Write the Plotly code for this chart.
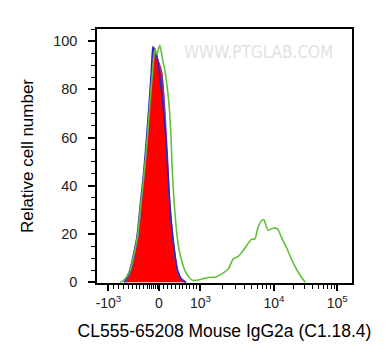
import math
import plotly.graph_objects as go

# Display channel (0-1023 biexponential display scale) and relative cell number (%)
red_x = [117, 139, 166, 179, 192, 203, 212, 223, 232, 242, 259, 270, 276, 283, 290, 302, 319, 334, 350]
red_y = [0, 4.8, 18.6, 32.4, 46.2, 59.9, 73.7, 87.5, 97.0, 93.0, 87.5, 73.7, 59.9, 46.2, 32.4, 18.6, 4.8, 1.5, 0]

purple_x = [114, 136, 163, 177, 190, 201, 211, 221, 229, 236, 243, 260, 271, 278, 285, 292, 304, 322, 337, 354]
purple_y = [0, 4.8, 18.6, 32.4, 46.2, 59.9, 73.7, 87.5, 97.3, 94.5, 92.0, 86.0, 72.0, 59.9, 46.2, 32.4, 18.6, 4.8, 1.5, 0]

blue_x = [109, 131, 160, 174, 188, 199, 209, 218, 224, 230, 236, 246, 258, 268, 276, 284, 292, 304, 324, 338, 358]
blue_y = [0, 4.8, 18.6, 32.4, 46.2, 59.9, 73.7, 87.5, 97.7, 95.0, 95.5, 90.0, 80.0, 70.0, 59.9, 46.2, 32.4, 18.6, 4.8, 1.5, 0]

green_x = [93, 109, 132, 162, 176, 190, 202, 212, 223, 232, 240, 252, 262, 273, 282, 289, 297, 302, 310, 322,
           333, 353, 370, 386, 406, 430, 453, 473, 499, 526, 546, 566, 586, 620, 633, 646, 660, 670, 678, 686,
           706, 724, 740, 760, 780, 800, 820, 836]
green_y = [0, 1.0, 4.8, 18.6, 32.4, 46.2, 59.9, 73.7, 87.5, 96.4, 94.5, 98.2, 93.0, 87.5, 80.5, 73.7, 59.9, 46.2, 32.4, 18.6,
           11.7, 4.8, 2.0, 0.7, 0.95, 1.6, 2.1, 2.1, 3.4, 5.5, 9.6, 10.7, 13.1, 17.9, 17.9, 22.7, 25.5, 25.9, 23.5, 21.6,
           22.4, 22.2, 18.6, 14.5, 9.6, 5.5, 2.1, 0]

x_tick_vals = [46, 248, 415, 710, 964]
x_tick_text = ["-10<sup>3</sup>", "0", "10<sup>3</sup>", "10<sup>4</sup>", "10<sup>5</sup>"]
y_tick_vals = [0, 20, 40, 60, 80, 100]

# minor tick positions on the display scale
neg_minor = [65, 85, 105, 125, 142, 158, 172, 185, 203, 211, 219, 227, 235, 241]
pos_minor = [266, 282, 299, 313, 330, 343, 359, 373, 386, 399]
log_minor = [415 + 295 * math.log10(k) for k in range(2, 10)] + [710 + 254 * math.log10(k) for k in range(2, 10)]
x_minor = neg_minor + pos_minor + log_minor

FONT = "Liberation Sans, Arial, sans-serif"

fig = go.Figure()
fig.add_trace(go.Scatter(x=red_x, y=red_y, mode="lines", fill="tozeroy", fillcolor="#ff0000",
                         line=dict(color="#e01010", width=1.2, shape="spline", smoothing=0.6), hoverinfo="skip"))
fig.add_trace(go.Scatter(x=purple_x, y=purple_y, mode="lines",
                         line=dict(color="#7a3a9a", width=1.6, shape="spline", smoothing=0.6), hoverinfo="skip"))
fig.add_trace(go.Scatter(x=blue_x, y=blue_y, mode="lines",
                         line=dict(color="#2a2ab8", width=1.6, shape="spline", smoothing=0.6), hoverinfo="skip"))
fig.add_trace(go.Scatter(x=green_x, y=green_y, mode="lines",
                         line=dict(color="#62c13a", width=1.6, shape="spline", smoothing=0.6), hoverinfo="skip"))

fig.add_annotation(x=0.635, y=0.955, xref="paper", yref="paper", text="WWW.PTGLAB.COM", showarrow=False,
                   font=dict(family="DejaVu Sans Condensed, Liberation Sans Narrow, Arial", size=17, color="#e2e2e2"))

fig.update_layout(
    width=389, height=360, showlegend=False,
    margin=dict(l=89, r=45, t=21, b=85),
    paper_bgcolor="white", plot_bgcolor="white",
    font=dict(family=FONT, color="#222"),
    xaxis=dict(range=[0, 1023], showgrid=False, zeroline=False, showline=True, linecolor="black", linewidth=1.5,
               mirror=True, ticks="outside", ticklen=6, tickwidth=2, tickcolor="black",
               tickmode="array", tickvals=x_tick_vals, ticktext=x_tick_text, tickfont=dict(size=14, color="#222"),
               minor=dict(tickmode="array", tickvals=x_minor, ticks="outside", ticklen=4, tickwidth=1.2,
                          tickcolor="black", showgrid=False),
               title=dict(text="CL555-65208 Mouse IgG2a (C1.18.4)", font=dict(size=17.5, color="black"), standoff=15)),
    yaxis=dict(range=[-0.3, 105], showgrid=False, zeroline=False, showline=True, linecolor="black", linewidth=1.5,
               mirror=True, ticks="outside", ticklen=7, tickwidth=1.5, tickcolor="black", ticklabelstandoff=8,
               tickmode="array", tickvals=y_tick_vals, tickfont=dict(size=14.5, color="#222"),
               minor=dict(dtick=5, ticks="outside", ticklen=4, tickwidth=1.2, tickcolor="black", showgrid=False),
               title=dict(text="Relative cell number", font=dict(size=17, color="black"), standoff=15)),
)

fig.write_html("out.html")
